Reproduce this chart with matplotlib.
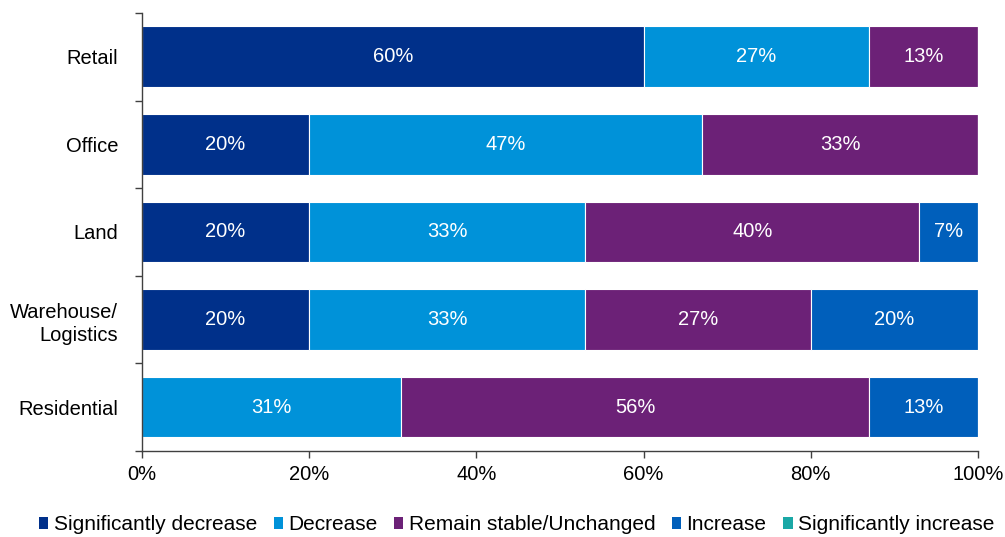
import matplotlib
matplotlib.use("Agg")
import matplotlib.pyplot as plt
from matplotlib.patches import Patch
import numpy as np

plt.rcParams['font.family'] = ['Liberation Sans', 'DejaVu Sans']

categories = ["Retail", "Office", "Land", "Warehouse/\nLogistics", "Residential"]
series_names = ["Significantly decrease", "Decrease", "Remain stable/Unchanged",
                "Increase", "Significantly increase"]
sig_decrease = [60, 20, 20, 20, 0]
decrease = [27, 47, 33, 33, 31]
stable = [13, 33, 40, 27, 56]
increase = [0, 0, 7, 20, 13]
sig_increase = [0, 0, 0, 0, 0]
x_ticks = [0, 20, 40, 60, 80, 100]
x_tick_labels = ["0%", "20%", "40%", "60%", "80%", "100%"]

colors = ["#00308A", "#0092D9", "#6C2177", "#005FBB", "#1AA8A6"]
series = [sig_decrease, decrease, stable, increase, sig_increase]

fs = 14.5

fig = plt.figure(figsize=(10.05, 5.37), dpi=100)
ax = fig.add_axes([0.1413, 0.16, 0.8318, 0.816])

y = np.arange(len(categories))
left = np.zeros(len(categories))
for vals, col in zip(series, colors):
    vals = np.array(vals, dtype=float)
    ax.barh(y, vals, left=left, height=0.69, color=col,
            edgecolor="white", linewidth=0.8)
    for yi, (l, v) in enumerate(zip(left, vals)):
        if v > 0:
            ax.text(l + v / 2, yi, f"{v:.0f}%", ha="center", va="center",
                    color="white", fontsize=fs)
    left += vals

ax.set_xlim(0, 100)
ax.set_ylim(len(categories) - 0.5, -0.5)
ax.set_xticks(x_ticks)
ax.set_xticklabels(x_tick_labels, fontsize=fs)
ax.set_yticks(y)
ax.set_yticklabels(categories, fontsize=fs, linespacing=1.3)
ax.tick_params(axis="y", which="major", length=0, pad=17)
ax.set_yticks(np.arange(-0.5, len(categories), 1.0), minor=True)
ax.tick_params(axis="y", which="minor", length=5, color="#404040", width=1)
ax.tick_params(axis="x", length=5, color="#404040", width=1, pad=5)

for s in ["top", "right"]:
    ax.spines[s].set_visible(False)
for s in ["left", "bottom"]:
    ax.spines[s].set_color("#404040")
    ax.spines[s].set_linewidth(1)

handles = [Patch(facecolor=c, edgecolor="none") for c in colors]
fig.legend(handles, series_names, loc="lower center", ncol=5,
           bbox_to_anchor=(0.514, -0.03), frameon=False, fontsize=15,
           handlelength=0.45, handleheight=0.45, handletextpad=0.25,
           columnspacing=0.8)

fig.savefig("out.png", dpi=100)
